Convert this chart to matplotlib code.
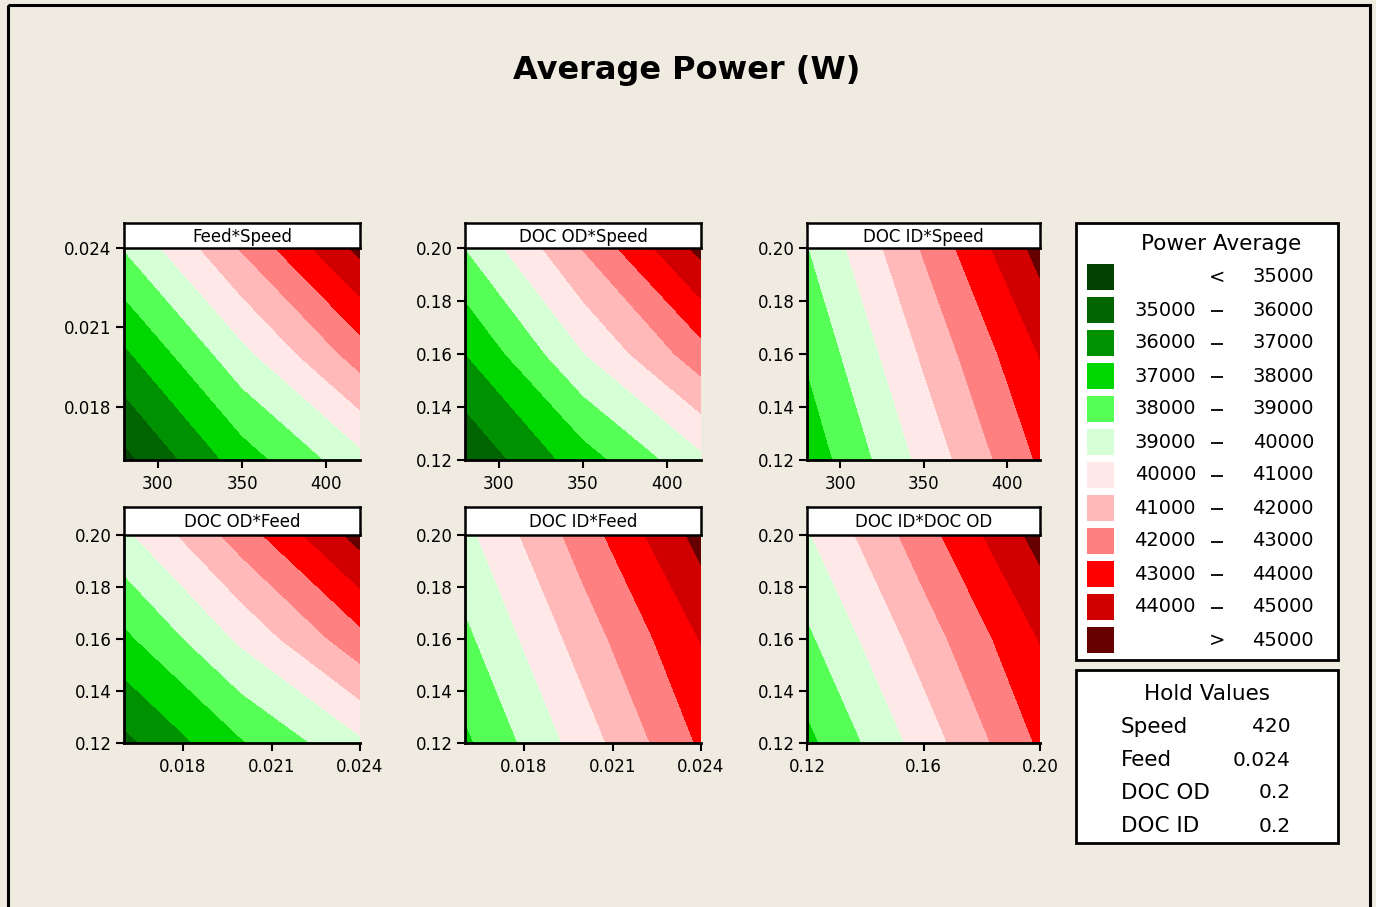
import numpy as np
import matplotlib
matplotlib.use("Agg")
import matplotlib.pyplot as plt
from matplotlib.patches import Rectangle

# ---- data (W) ----
speed_vals = [280, 350, 420]
feed_vals = [0.016, 0.020, 0.024]
doc_od_vals = [0.12, 0.16, 0.20]
doc_id_vals = [0.12, 0.16, 0.20]

# rows: y low -> high, cols: x low -> high
feed_speed = [[34700, 37490, 39660],
              [36810, 39700, 42490],
              [39050, 42100, 45300]]
docod_speed = [[35130, 37520, 39750],
               [36980, 39950, 42590],
               [39000, 42050, 45300]]
docid_speed = [[37350, 40280, 43150],
               [38120, 41150, 44050],
               [38950, 42100, 45380]]
docod_feed = [[35720, 37910, 39800],
              [37760, 40200, 42670],
              [39770, 42490, 45400]]
docid_feed = [[37800, 40480, 43150],
              [38760, 41450, 44050],
              [39720, 42480, 45380]]
docid_docod = [[37720, 40440, 43150],
               [38800, 41470, 44050],
               [39900, 42570, 45380]]

cuts = [35000, 36000, 37000, 38000, 39000, 40000, 41000, 42000, 43000, 44000, 45000]
band_colors = ["#004000", "#006400", "#009100", "#00D700", "#55FF55", "#D5FFD5",
               "#FFE8E8", "#FFB9B9", "#FF8080", "#FF0000", "#D00000", "#650000"]

hold_names = ["Speed", "Feed", "DOC OD", "DOC ID"]
hold_values = ["420", "0.024", "0.2", "0.2"]

W, H = 1376, 907
bg = "#EFEBE1"

fig = plt.figure(figsize=(W / 100, H / 100), dpi=100, facecolor=bg)

levels = [0] + cuts + [1e6]


def fx(px):
    return px / W


def fy(py):
    return 1 - py / H


def draw_panel(x0, x1, top, bottom, head_top, name, xs, ys, z,
               xticks, xfmt, yticks, yfmt):
    ax = fig.add_axes([fx(x0), fy(bottom), fx(x1 - x0), (bottom - top) / H])
    ax.contourf(xs, ys, np.array(z), levels=levels, colors=band_colors)
    ax.set_xlim(xs[0], xs[-1])
    ax.set_ylim(ys[0], ys[-1])
    ax.set_xticks(xticks)
    ax.set_xticklabels([xfmt.format(v) for v in xticks])
    ax.set_yticks(yticks)
    ax.set_yticklabels([yfmt.format(v) for v in yticks])
    ax.tick_params(direction="out", length=6, width=1.5, labelsize=12,
                   pad=3, colors="black")
    for s in ["top", "right"]:
        ax.spines[s].set_visible(False)
    for s in ["left", "bottom"]:
        ax.spines[s].set_linewidth(2)
    ax.xaxis.set_tick_params(pad=5)
    # header strip
    hx = fig.add_axes([fx(x0), fy(top), fx(x1 - x0), (top - head_top) / H])
    hx.set_facecolor("white")
    hx.set_xticks([])
    hx.set_yticks([])
    for s in hx.spines.values():
        s.set_linewidth(1.8)
    hx.text(0.5, 0.45, name, ha="center", va="center", fontsize=12,
            transform=hx.transAxes)


speed_ticks = [300, 350, 400]
feed_ticks = [0.018, 0.021, 0.024]
doc_ticks = [0.12, 0.14, 0.16, 0.18, 0.20]
doc_xticks = [0.12, 0.16, 0.20]

cols = [(124, 360), (465, 701), (807, 1040)]
row1 = (248, 460, 223)
row2 = (535, 743, 507)

draw_panel(*cols[0], *row1, "Feed*Speed", speed_vals, feed_vals, feed_speed,
           speed_ticks, "{:.0f}", feed_ticks, "{:.3f}")
draw_panel(*cols[1], *row1, "DOC OD*Speed", speed_vals, doc_od_vals, docod_speed,
           speed_ticks, "{:.0f}", doc_ticks, "{:.2f}")
draw_panel(*cols[2], *row1, "DOC ID*Speed", speed_vals, doc_id_vals, docid_speed,
           speed_ticks, "{:.0f}", doc_ticks, "{:.2f}")
draw_panel(*cols[0], *row2, "DOC OD*Feed", feed_vals, doc_od_vals, docod_feed,
           feed_ticks, "{:.3f}", doc_ticks, "{:.2f}")
draw_panel(*cols[1], *row2, "DOC ID*Feed", feed_vals, doc_id_vals, docid_feed,
           feed_ticks, "{:.3f}", doc_ticks, "{:.2f}")
draw_panel(*cols[2], *row2, "DOC ID*DOC OD", doc_od_vals, doc_id_vals, docid_docod,
           doc_xticks, "{:.2f}", doc_ticks, "{:.2f}")

# overlay in pixel coordinates for legend, boxes and frame
ov = fig.add_axes([0, 0, 1, 1], facecolor="none")
ov.set_xlim(0, W)
ov.set_ylim(H, 0)
ov.axis("off")

ov.add_patch(Rectangle((8, 5), 1362, 920, fill=False, lw=2.2, ec="black", clip_on=False))

ov.text(687, 70, "Average Power (W)", ha="center", va="center",
        fontsize=23, fontweight="bold")

# colour legend
ov.add_patch(Rectangle((1076, 223), 262, 437, fc="white", ec="black", lw=2))
ov.text(1221, 244, "Power Average", ha="center", va="center", fontsize=15.5)
for i, c in enumerate(band_colors):
    yc = 277 + i * 33
    ov.add_patch(Rectangle((1087, yc - 13), 27, 26, fc=c, ec="none"))
    if i == 0:
        ov.text(1217, yc, "<", ha="center", va="center", fontsize=14)
        ov.text(1314, yc, str(cuts[0]), ha="right", va="center", fontsize=14)
    elif i == len(band_colors) - 1:
        ov.text(1217, yc, ">", ha="center", va="center", fontsize=14)
        ov.text(1314, yc, str(cuts[-1]), ha="right", va="center", fontsize=14)
    else:
        ov.text(1196, yc, str(cuts[i - 1]), ha="right", va="center", fontsize=14)
        ov.plot([1211, 1223], [yc + 0.5, yc + 0.5], color="black", lw=1.3,
                solid_capstyle="butt")
        ov.text(1314, yc, str(cuts[i]), ha="right", va="center", fontsize=14)

# hold values box
ov.add_patch(Rectangle((1076, 670), 262, 173, fc="white", ec="black", lw=2))
ov.text(1207, 694, "Hold Values", ha="center", va="center", fontsize=15.5)
for i, (n, v) in enumerate(zip(hold_names, hold_values)):
    yc = 727 + i * 33
    ov.text(1121, yc, n, ha="left", va="center", fontsize=15.5)
    ov.text(1291, yc, v, ha="right", va="center", fontsize=14.5)

fig.savefig("out.png", dpi=100, facecolor=bg)
